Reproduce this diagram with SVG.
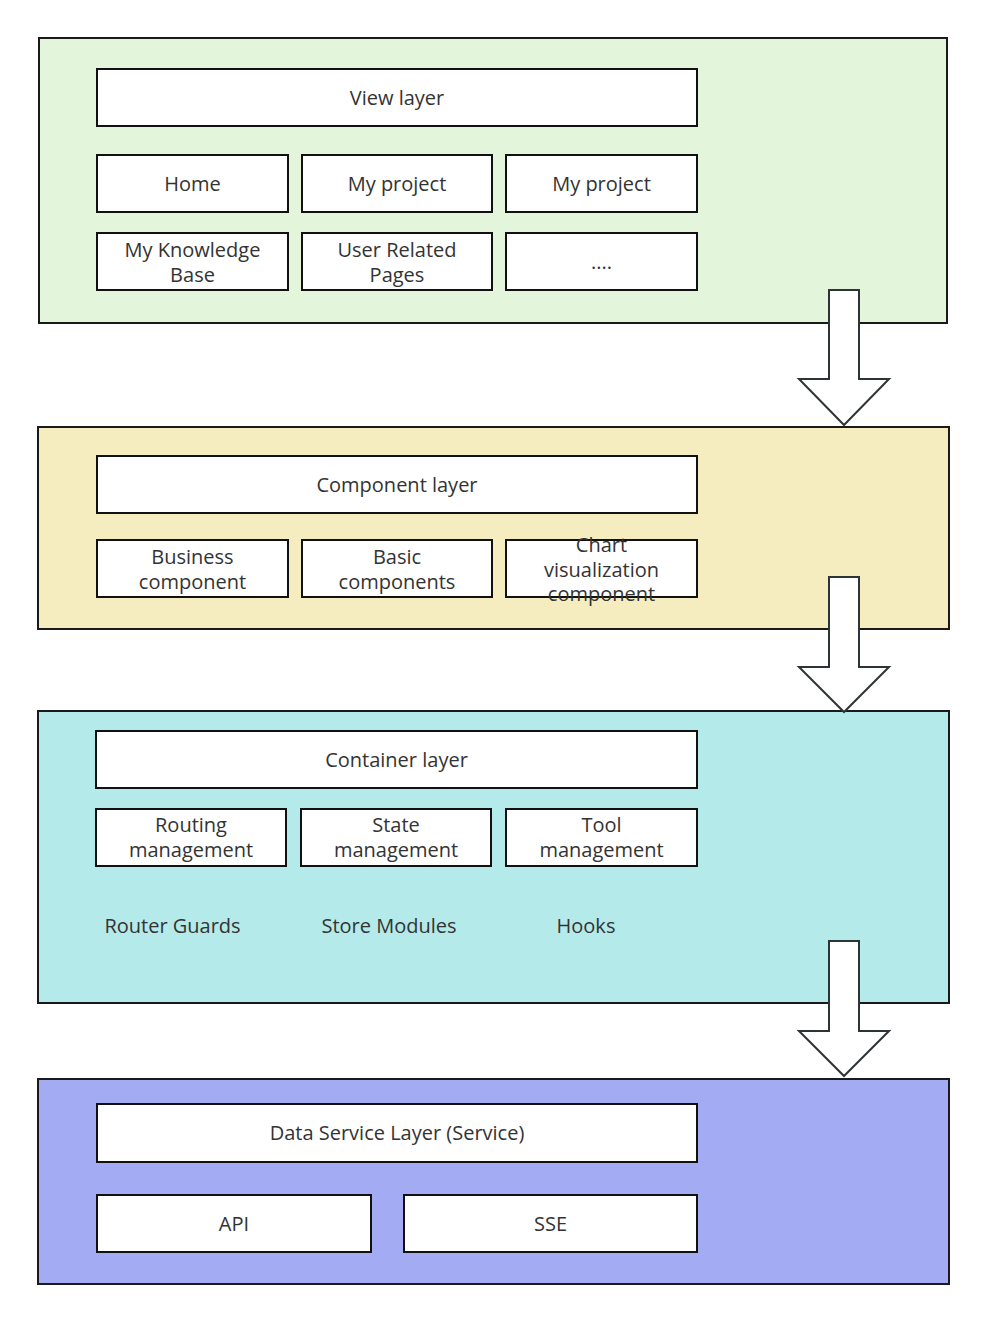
<svg xmlns="http://www.w3.org/2000/svg" width="986" height="1322" viewBox="0 0 986 1322">
<style>
.layer{stroke:#1a1a1a;stroke-width:2}
.box{fill:#ffffff;stroke:#111111;stroke-width:2}
.t{font-family:"Open Sans","Noto Sans",sans-serif;font-size:20px;fill:#333333;text-anchor:middle;dominant-baseline:central}
.arrow{fill:#ffffff;stroke:#2d3436;stroke-width:2;stroke-linejoin:miter}
</style>
<rect width="986" height="1322" fill="#ffffff"/>
<g id="layer-view">
<rect class="layer" x="39" y="38" width="908" height="285" fill="#e3f5db"/>
</g>
<g id="layer-component">
<rect class="layer" x="38" y="427" width="911" height="202" fill="#f5edc0"/>
</g>
<g id="layer-container">
<rect class="layer" x="38" y="711" width="911" height="292" fill="#b5eaea"/>
</g>
<g id="layer-service">
<rect class="layer" x="38" y="1079" width="911" height="205" fill="#a3abf2"/>
</g>
<g id="node-view-layer"><rect class="box" x="97" y="69" width="600" height="57"/><text class="t" x="397" y="97.5">View layer</text></g>
<g id="node-home"><rect class="box" x="97" y="155" width="191" height="57"/><text class="t" x="192.5" y="183">Home</text></g>
<g id="node-my-project-1"><rect class="box" x="302" y="155" width="190" height="57"/><text class="t" x="397" y="183">My project</text></g>
<g id="node-my-project-2"><rect class="box" x="506" y="155" width="191" height="57"/><text class="t" x="601.5" y="183">My project</text></g>
<g id="node-knowledge"><rect class="box" x="97" y="233" width="191" height="57"/><text class="t" x="192.5" y="249.5">My Knowledge<tspan x="192.5" dy="24">Base</tspan></text></g>
<g id="node-user"><rect class="box" x="302" y="233" width="190" height="57"/><text class="t" x="397" y="249.5">User Related<tspan x="397" dy="24">Pages</tspan></text></g>
<g id="node-more"><rect class="box" x="506" y="233" width="191" height="57"/><text class="t" x="601.5" y="261.5">....</text></g>
<g id="node-component-layer"><rect class="box" x="97" y="456" width="600" height="57"/><text class="t" x="397" y="484.5">Component layer</text></g>
<g id="node-business"><rect class="box" x="97" y="540" width="191" height="57"/><text class="t" x="192.5" y="556.5">Business<tspan x="192.5" dy="24">component</tspan></text></g>
<g id="node-basic"><rect class="box" x="302" y="540" width="190" height="57"/><text class="t" x="397" y="556.5">Basic<tspan x="397" dy="24">components</tspan></text></g>
<g id="node-chart"><rect class="box" x="506" y="540" width="191" height="57"/><text class="t" x="601.5" y="544.5">Chart<tspan x="601.5" dy="24">visualization</tspan><tspan x="601.5" dy="24">component</tspan></text></g>
<g id="node-container-layer"><rect class="box" x="96" y="731" width="601" height="57"/><text class="t" x="396.5" y="759.5">Container layer</text></g>
<g id="node-routing"><rect class="box" x="96" y="809" width="190" height="57"/><text class="t" x="191" y="824.5">Routing<tspan x="191" dy="24">management</tspan></text></g>
<g id="node-state"><rect class="box" x="301" y="809" width="190" height="57"/><text class="t" x="396" y="824.5">State<tspan x="396" dy="24">management</tspan></text></g>
<g id="node-tool"><rect class="box" x="506" y="809" width="191" height="57"/><text class="t" x="601.5" y="824.5">Tool<tspan x="601.5" dy="24">management</tspan></text></g>
<g id="label-router-guards"><text class="t" x="172.5" y="925.5">Router Guards</text></g>
<g id="label-store-modules"><text class="t" x="389" y="925.5">Store Modules</text></g>
<g id="label-hooks"><text class="t" x="586" y="925.5">Hooks</text></g>
<g id="node-service-layer"><rect class="box" x="97" y="1104" width="600" height="58"/><text class="t" x="397" y="1132.5">Data Service Layer (Service)</text></g>
<g id="node-api"><rect class="box" x="97" y="1195" width="274" height="57"/><text class="t" x="234" y="1223.5">API</text></g>
<g id="node-sse"><rect class="box" x="404" y="1195" width="293" height="57"/><text class="t" x="550.5" y="1223.5">SSE</text></g>
<g id="connectors">
<polygon class="arrow" points="829,290 859,290 859,379 889,379 844,425 799,379 829,379"/>
<polygon class="arrow" points="829,577 859,577 859,667 889,667 844,712 799,667 829,667"/>
<polygon class="arrow" points="829,941 859,941 859,1031 889,1031 844,1076 799,1031 829,1031"/>
</g>
</svg>
